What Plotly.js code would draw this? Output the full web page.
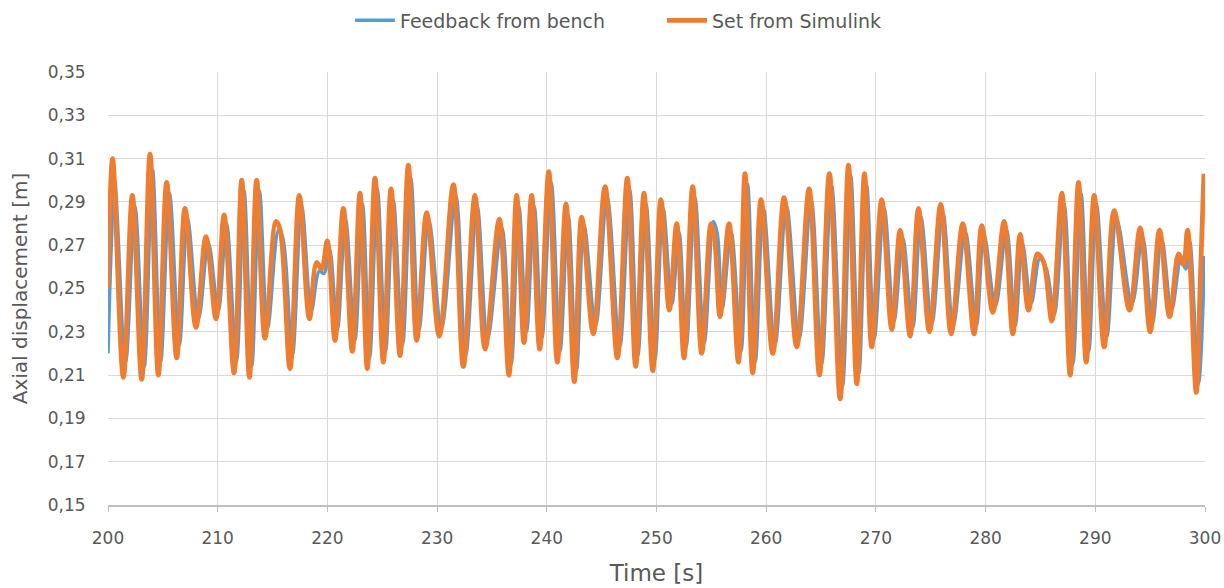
<!DOCTYPE html>
<html>
<head>
<meta charset="utf-8">
<script src="https://cdn.plot.ly/plotly-3.0.1.min.js"></script>
<style>html,body{margin:0;padding:0;background:#fff;}#chart{width:1224px;height:588px;}</style>
</head>
<body>
<div id="chart"></div>
<script>
// Set from Simulink (orange) – turning points
const setTime = [200.0,200.15,200.42,201.40,202.22,203.07,203.83,204.59,205.35,206.26,207.02,208.02,208.93,209.85,
210.58,211.49,212.19,212.89,213.55,214.31,215.32,215.7,216.59,217.44,218.36,219.02,219.48,219.99,
220.69,221.45,222.27,222.97,223.64,224.34,225.10,225.80,226.62,227.38,228.14,229.05,
230.2,231.48,232.39,233.45,234.37,235.67,236.55,237.25,237.92,238.62,239.35,
240.18,240.96,241.75,242.51,243.18,244.24,245.31,246.43,247.34,248.10,248.86,249.66,
250.4,251.17,251.84,252.51,253.30,254.12,254.97,255.3,255.79,256.61,257.47,258.07,258.77,259.53,
260.60,261.63,262.78,263.91,264.85,265.76,266.74,267.50,268.26,268.96,269.62,
270.53,271.45,272.21,273.12,273.88,274.88,275.91,276.86,277.92,278.95,279.65,
280.66,281.69,282.48,283.15,283.91,284.73,285.3,286.04,286.95,287.71,288.47,289.17,289.9,
290.81,291.72,293.12,294.09,295.00,295.85,296.77,297.59,298.04,298.41,299.20,299.55,299.9];
const setValue = [0.250,0.285,0.310,0.209,0.293,0.208,0.312,0.210,0.299,0.218,0.287,0.232,0.274,0.236,
0.284,0.211,0.300,0.209,0.300,0.227,0.281,0.277,0.213,0.293,0.236,0.262,0.259,0.272,
0.226,0.287,0.221,0.294,0.213,0.301,0.216,0.296,0.219,0.307,0.226,0.285,
0.228,0.298,0.214,0.293,0.222,0.282,0.210,0.293,0.225,0.293,0.222,
0.304,0.216,0.289,0.207,0.283,0.229,0.297,0.218,0.301,0.214,0.294,0.212,
0.291,0.240,0.280,0.218,0.297,0.220,0.280,0.273,0.237,0.280,0.216,0.303,0.211,0.291,
0.220,0.292,0.223,0.296,0.210,0.303,0.199,0.307,0.206,0.303,0.223,
0.291,0.231,0.277,0.228,0.287,0.230,0.289,0.229,0.280,0.229,0.279,
0.239,0.281,0.229,0.275,0.240,0.266,0.262,0.235,0.294,0.210,0.299,0.216,0.293,
0.223,0.286,0.240,0.278,0.230,0.277,0.237,0.266,0.261,0.277,0.202,0.250,0.303];

// Feedback from bench (blue)
const benchTime = [200.0,200.3,200.6,201.6,202.45,203.3,204.05,204.8,205.6,206.5,207.25,208.25,209.15,
210.05,210.8,211.7,212.4,213.1,213.8,214.55,215.55,215.95,216.8,217.65,218.55,219.25,219.7,
220.2,220.9,221.65,222.5,223.2,223.85,224.55,225.3,226.0,226.85,227.6,228.35,229.25,
230.4,231.7,232.6,233.65,234.6,235.9,236.75,237.45,238.15,238.85,239.55,
240.4,241.2,241.95,242.7,243.4,244.45,245.5,246.65,247.55,248.3,249.05,249.85,
250.6,251.4,252.05,252.7,253.5,254.35,255.2,255.55,256.0,256.8,257.7,258.3,259.0,259.75,
260.8,261.85,263.0,264.1,265.05,265.95,266.95,267.7,268.45,269.15,269.85,
270.75,271.65,272.45,273.35,274.1,275.1,276.1,277.05,278.15,279.15,279.85,
280.9,281.9,282.7,283.35,284.15,284.95,285.55,286.25,287.15,287.95,288.7,289.4,
290.1,291.05,291.95,293.35,294.3,295.2,296.05,296.95,297.8,298.25,298.6,299.4,299.95];
const benchValue = [0.220,0.270,0.300,0.216,0.288,0.214,0.305,0.216,0.294,0.224,0.282,0.236,0.271,
0.240,0.280,0.216,0.295,0.214,0.295,0.232,0.277,0.273,0.219,0.288,0.240,0.258,0.257,
0.268,0.231,0.282,0.226,0.289,0.218,0.296,0.221,0.291,0.224,0.301,0.231,0.281,
0.232,0.293,0.219,0.288,0.227,0.278,0.215,0.288,0.230,0.288,0.227,
0.299,0.221,0.284,0.212,0.279,0.233,0.292,0.223,0.296,0.219,0.289,0.217,
0.287,0.243,0.276,0.223,0.292,0.225,0.281,0.275,0.241,0.276,0.221,0.298,0.216,0.287,
0.224,0.288,0.227,0.291,0.215,0.298,0.205,0.302,0.211,0.298,0.227,
0.287,0.235,0.273,0.232,0.283,0.234,0.285,0.233,0.276,0.233,0.275,
0.242,0.277,0.233,0.271,0.243,0.264,0.259,0.238,0.289,0.215,0.294,0.221,
0.289,0.228,0.282,0.243,0.274,0.234,0.273,0.240,0.263,0.259,0.272,0.206,0.265];

const seriesNames = ["Feedback from bench", "Set from Simulink"];
const xTicks = [200,210,220,230,240,250,260,270,280,290,300];
const yTicks = [0.15,0.17,0.19,0.21,0.23,0.25,0.27,0.29,0.31,0.33,0.35];

const font = 'DejaVu Sans, Roboto, Arial, sans-serif';
const grey = '#595959';

const traces = [
  {x: benchTime, y: benchValue, name: seriesNames[0], mode: 'lines',
   line: {color: '#5b9bd5', width: 3.5, shape: 'spline', smoothing: 1}},
  {x: setTime, y: setValue, name: seriesNames[1], mode: 'lines',
   line: {color: '#ed7d31', width: 4.8, shape: 'spline', smoothing: 1}}
];

const layout = {
  width: 1224, height: 588,
  margin: {l: 108, r: 19, t: 72, b: 83, autoexpand: false},
  paper_bgcolor: '#ffffff', plot_bgcolor: '#ffffff',
  separators: ', ',
  font: {family: font, color: grey, size: 17},
  showlegend: true,
  legend: {orientation: 'h', x: 0.2206, xanchor: 'left', y: 1.119, yanchor: 'middle',
           entrywidth: 257, entrywidthmode: 'pixels',
           font: {family: font, size: 19, color: grey}, itemwidth: 40, traceorder: 'normal'},
  xaxis: {range: [200, 300], tickvals: xTicks, ticktext: xTicks.map(String),
          showgrid: true, gridcolor: '#d9d9d9', gridwidth: 1,
          showline: true, linecolor: '#bfbfbf', linewidth: 1.5,
          ticks: 'outside', ticklen: 5, tickcolor: '#bfbfbf', ticklabelstandoff: 12,
          zeroline: false, automargin: false, tickfont: {family: font, size: 17, color: grey},
          title: {text: 'Time [s]', font: {family: font, size: 23, color: grey}, standoff: 18}},
  yaxis: {range: [0.15, 0.35], tickvals: yTicks, tickformat: '.2f',
          showgrid: true, gridcolor: '#d9d9d9', gridwidth: 1,
          showline: false, zeroline: false, automargin: false,
          ticks: 'outside', ticklen: 18, tickcolor: 'rgba(0,0,0,0)',
          tickfont: {family: font, size: 17, color: grey},
          title: {text: 'Axial displacement [m]', font: {family: font, size: 20, color: grey}, standoff: 14}}
};

Plotly.newPlot('chart', traces, layout, {displayModeBar: false, staticPlot: true});
</script>
</body>
</html>
